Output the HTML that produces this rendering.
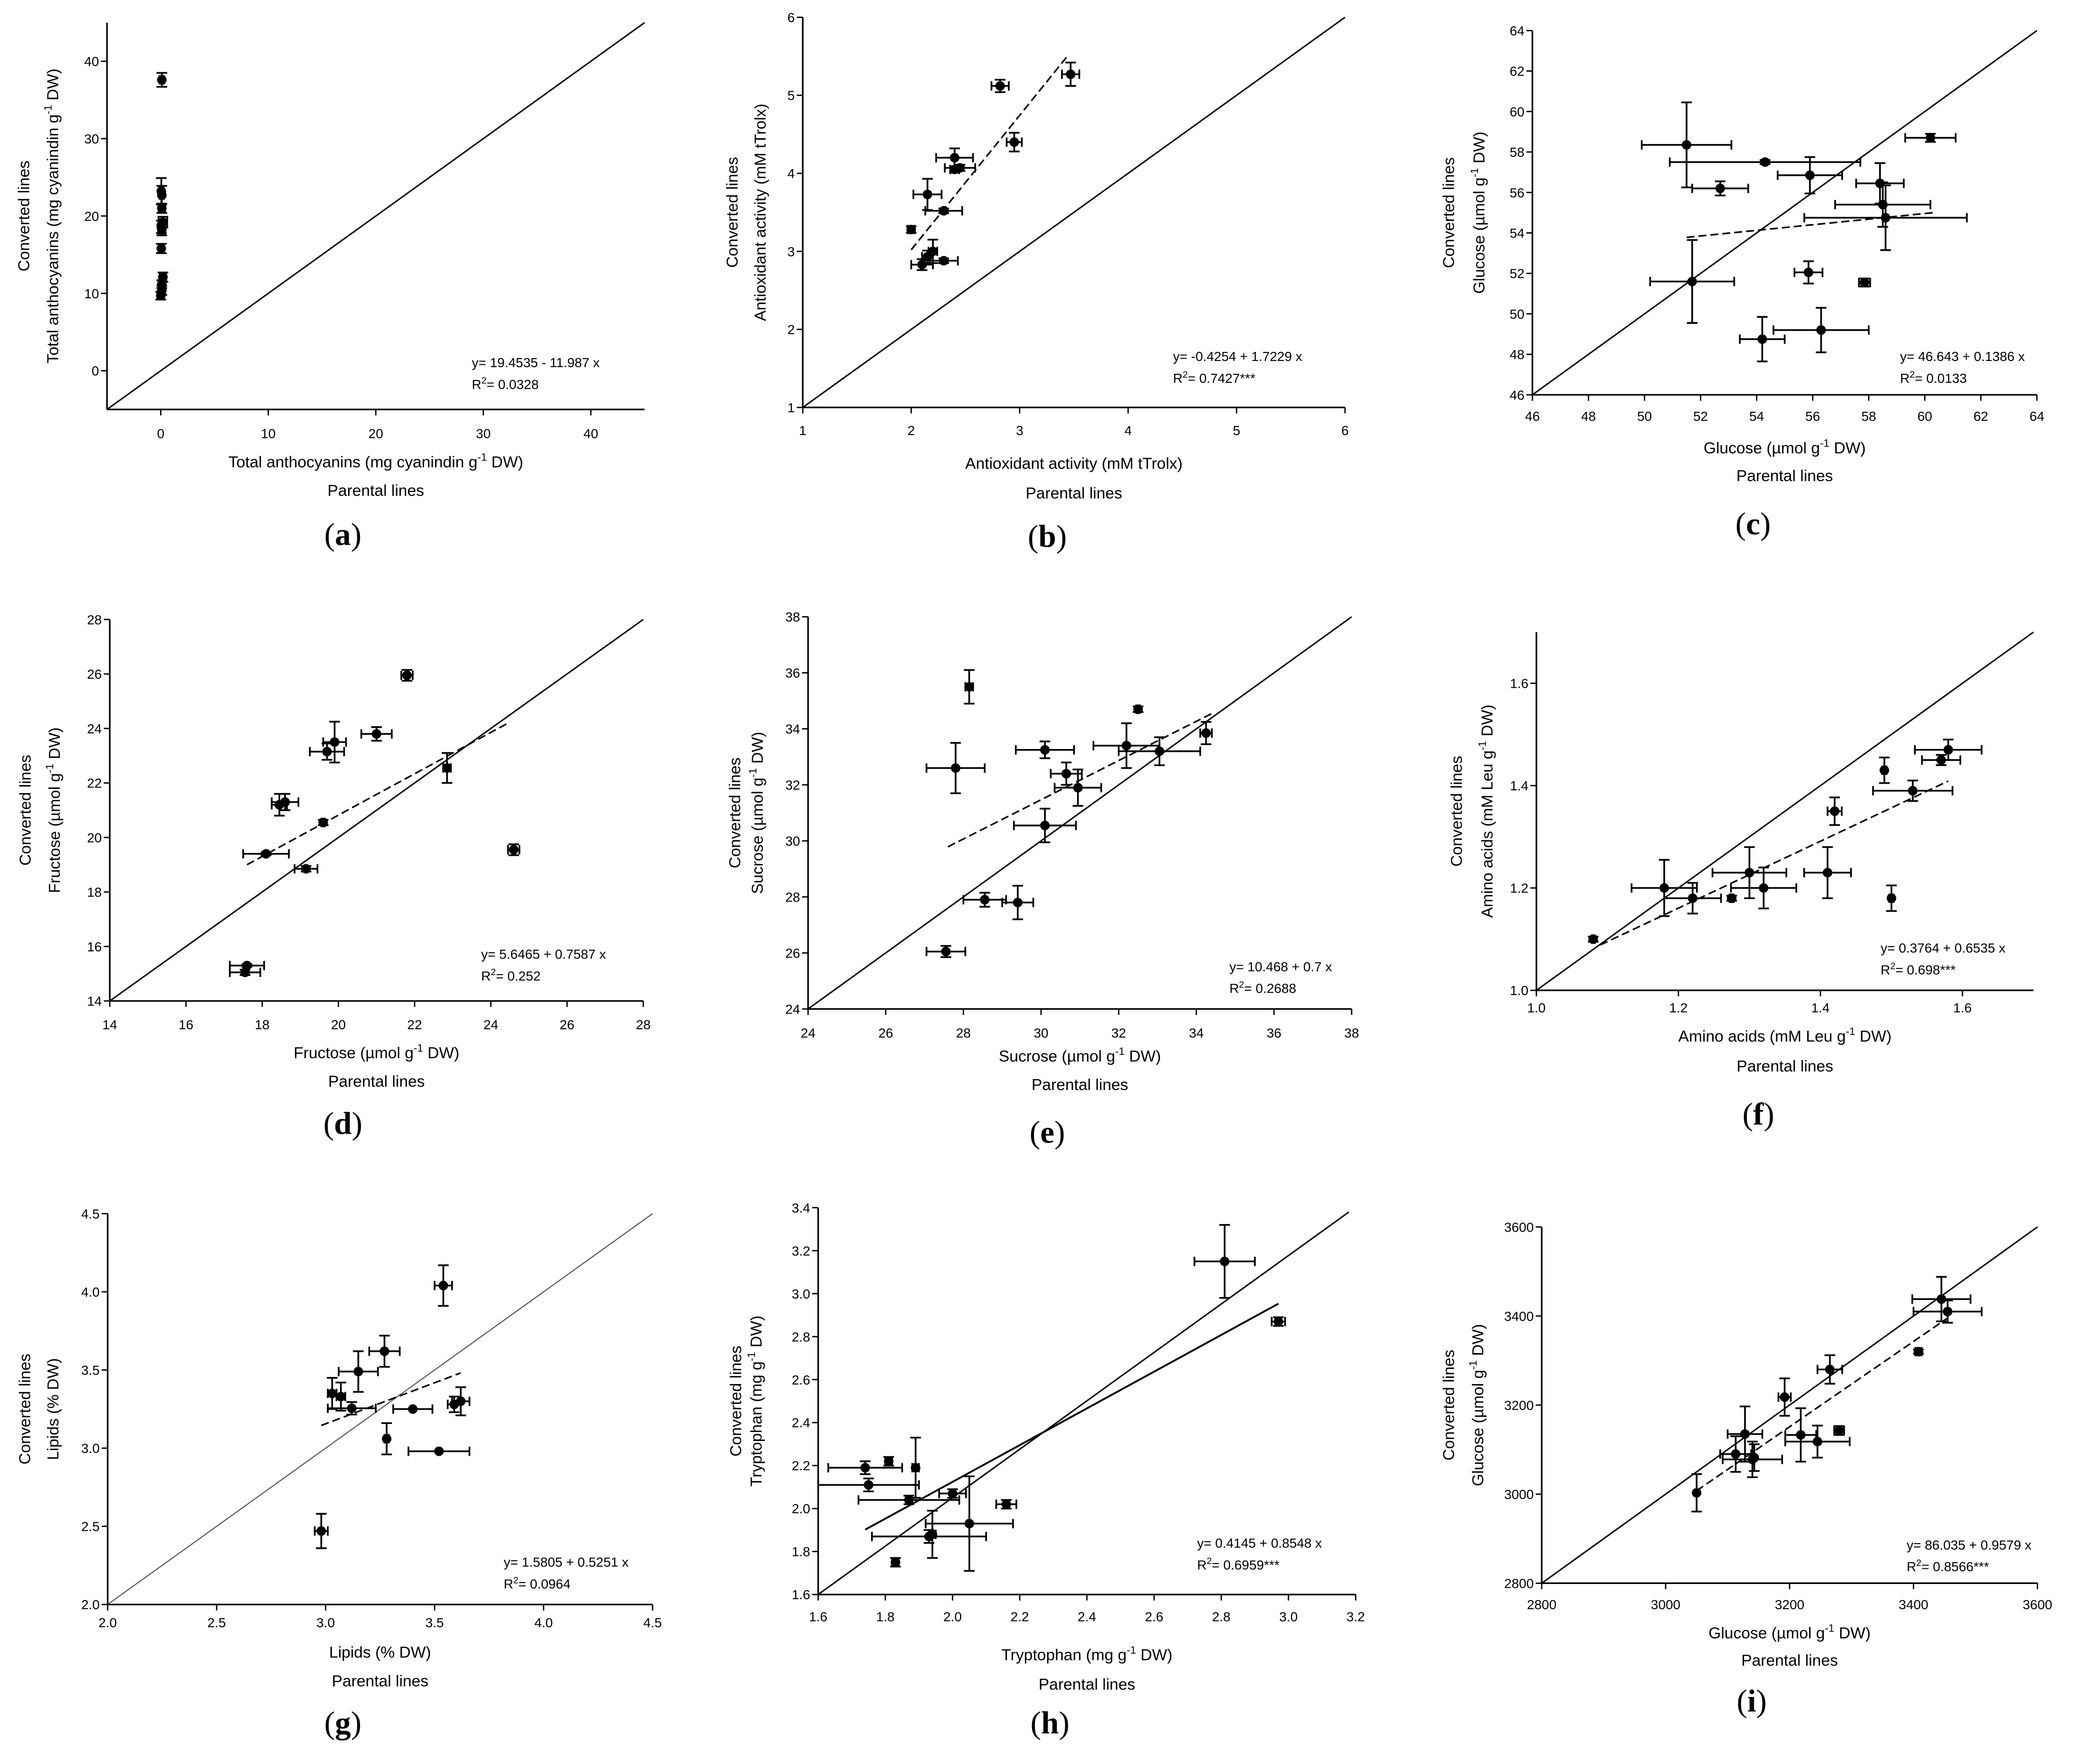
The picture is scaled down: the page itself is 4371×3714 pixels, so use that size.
<!DOCTYPE html>
<html><head><meta charset="utf-8"><style>
html,body{margin:0;padding:0;background:#fff;}
svg{display:block;}
text{font-family:"Liberation Sans",sans-serif;fill:#000;}
.pl{font-family:"Liberation Serif",serif;font-size:24px;}
</style></head><body>
<svg id="fig" width="4371" height="3714" viewBox="0 0 1562 1327" preserveAspectRatio="none" xmlns="http://www.w3.org/2000/svg">
<rect width="1562" height="1327" fill="#fff"/>
</svg>
<script>
// ---- data arrays (top level) ----
const aX=[0.1,0.05,0.1,0.1,0.2,0.05,0.1,0.05,0.2,0.1,0.1,0.0];
const aY=[37.6,23.2,22.7,21.0,19.2,18.6,18.2,15.8,12.1,11.2,10.4,9.7];
const aXe=[0.2,0.2,0.2,0.3,0.4,0.3,0.3,0.2,0.3,0.3,0.3,0.3];
const aYe=[0.9,1.7,1.2,0.6,0.7,0.8,0.7,0.6,0.6,0.5,0.6,0.5];

const bX=[2.82,3.47,2.95,2.4,2.45,2.4,2.15,2.3,2.0,2.2,2.15,2.1,2.3];
const bY=[5.12,5.27,4.4,4.2,4.07,4.05,3.73,3.52,3.28,3.0,2.93,2.83,2.88];
const bXe=[0.08,0.08,0.07,0.17,0.14,0.04,0.13,0.17,0.03,0.04,0.05,0.1,0.13];
const bYe=[0.08,0.15,0.12,0.12,0.04,0.04,0.2,0.03,0.04,0.15,0.08,0.07,0.03];

const cX=[51.5,54.3,52.7,55.9,58.4,60.2,58.5,58.6,55.85,57.85,51.7,56.3,54.2];
const cY=[58.35,57.5,56.2,56.85,56.45,58.7,55.4,54.75,52.05,51.55,51.6,49.2,48.75];
const cXe=[1.6,3.4,1.0,1.15,0.85,0.9,1.7,2.9,0.5,0.2,1.5,1.7,0.8];
const cYe=[2.1,0.1,0.35,0.9,1.0,0.2,1.1,1.6,0.55,0.2,2.05,1.1,1.1];

const dX=[21.8,19.9,19.7,21.0,18.6,18.45,22.85,19.6,18.1,19.15,24.6,17.6,17.55];
const dY=[25.95,23.5,23.15,23.8,21.3,21.2,22.55,20.55,19.4,18.85,19.55,15.3,15.05];
const dXe=[0.15,0.3,0.45,0.4,0.35,0.2,0.1,0.05,0.6,0.3,0.15,0.45,0.4];
const dYe=[0.2,0.75,0.3,0.25,0.3,0.4,0.55,0.1,0.05,0.1,0.2,0.05,0.1];

const eX=[28.15,32.5,34.25,27.8,30.1,30.65,30.95,32.2,33.05,30.1,28.55,29.4,27.55];
const eY=[35.5,34.7,33.85,32.6,33.25,32.4,31.9,33.4,33.2,30.55,27.9,27.8,26.05];
const eXe=[0.1,0.05,0.15,0.75,0.75,0.4,0.6,0.85,1.05,0.8,0.55,0.4,0.5];
const eYe=[0.6,0.1,0.4,0.9,0.3,0.4,0.65,0.8,0.5,0.6,0.25,0.6,0.2];

const fX=[1.58,1.57,1.49,1.53,1.42,1.18,1.22,1.275,1.30,1.32,1.41,1.50,1.08];
const fY=[1.47,1.45,1.43,1.39,1.35,1.20,1.18,1.18,1.23,1.20,1.23,1.18,1.10];
const fXe=[0.047,0.027,0.003,0.056,0.01,0.046,0.04,0.003,0.052,0.046,0.033,0.003,0.002];
const fYe=[0.02,0.01,0.025,0.02,0.027,0.055,0.03,0.005,0.05,0.04,0.05,0.025,0.005];

const gX=[3.54,3.27,3.15,3.03,3.07,3.12,3.40,3.59,3.62,3.28,3.52,2.98];
const gY=[4.04,3.62,3.49,3.35,3.33,3.255,3.25,3.28,3.30,3.06,2.98,2.47];
const gXe=[0.04,0.07,0.09,0.02,0.02,0.11,0.09,0.03,0.04,0.01,0.14,0.03];
const gYe=[0.13,0.1,0.13,0.1,0.09,0.04,0.0,0.05,0.09,0.1,0.0,0.11];

const hX=[2.81,2.97,1.74,1.81,1.75,1.89,1.87,2.00,2.16,2.05,1.93,1.94,1.83];
const hY=[3.15,2.87,2.19,2.22,2.11,2.19,2.04,2.07,2.02,1.93,1.87,1.88,1.75];
const hXe=[0.09,0.02,0.11,0.01,0.15,0.01,0.15,0.04,0.03,0.13,0.17,0.01,0.01];
const hYe=[0.17,0.02,0.03,0.02,0.03,0.14,0.02,0.02,0.02,0.22,0.03,0.11,0.02];

const iX=[3445,3455,3408,3265,3192,3128,3113,3140,3218,3245,3280,3050,3143];
const iY=[3438,3410,3320,3280,3218,3135,3090,3078,3133,3118,3143,3003,3082];
const iXe=[47,55,5,20,10,28,25,48,25,52,8,2,2];
const iYe=[50,25,5,32,42,62,40,40,60,36,10,42,30];

const aTicks=[0,10,20,30,40];
const bTicks=[1,2,3,4,5,6];
const cTicks=[46,48,50,52,54,56,58,60,62,64];
const dTicks=[14,16,18,20,22,24,26,28];
const eTicks=[24,26,28,30,32,34,36,38];
const fTicks=[1.0,1.2,1.4,1.6];
const gTicks=[2.0,2.5,3.0,3.5,4.0,4.5];
const hTicks=[1.6,1.8,2.0,2.2,2.4,2.6,2.8,3.0,3.2];
const hYTicks=[1.6,1.8,2.0,2.2,2.4,2.6,2.8,3.0,3.2,3.4];
const iTicks=[2800,3000,3200,3400,3600];

const NS='http://www.w3.org/2000/svg';
const svg=document.getElementById('fig');
function mk(tag,attrs,parent,txt){const e=document.createElementNS(NS,tag);for(const k in attrs)e.setAttribute(k,attrs[k]);if(txt!==undefined)e.textContent=txt;(parent||svg).appendChild(e);return e;}

const panels=[
 {id:'a',X:aX,Y:aY,Xe:aXe,Ye:aYe,px:[80.5,485],dx:[-5,45],py:[308,17],dy:[-5,45],xt:aTicks,yt:aTicks,dec:0,tly:326,
  diag:[[-5,-5],[45,45]],reg:null,
  xl:'Total anthocyanins (mg cyanindin g',xl2:' DW)',xly:347.6,ply:369,yl:'Total anthocyanins (mg cyanindin g',yx:[18,39.7],eq:['y= 19.4535 - 11.987 x','0.0328'],eqp:[355,272.6],let:[258,402]},
 {id:'b',X:bX,Y:bY,Xe:bXe,Ye:bYe,px:[604,1012],dx:[1,6],py:[306.5,13],dy:[1,6],xt:bTicks,yt:bTicks,dec:0,tly:323.7,
  diag:[[1,1],[6,6]],reg:{x:[2.0,3.45],a:-0.4254,b:1.7229,dash:true},
  xl:'Antioxidant activity (mM tTrolx)',xl2:null,xly:348.7,ply:371,yl:'Antioxidant activity (mM tTrolx)',yl2:null,yx:[551,572],eq:['y= -0.4254 + 1.7229 x','0.7427***'],eqp:[882.6,268],let:[788,403.5]},
 {id:'c',X:cX,Y:cY,Xe:cXe,Ye:cYe,px:[1153,1532.6],dx:[46,64],py:[297,23],dy:[46,64],xt:cTicks,yt:cTicks,dec:0,tly:313,
  diag:[[46,46],[64,64]],reg:{x:[51.5,60.3],a:46.643,b:0.1386,dash:true},
  xl:'Glucose (\u00b5mol g',xl2:' DW)',xly:337,ply:358,yl:'Glucose (\u00b5mol g',yx:[1090,1113],eq:['y= 46.643 + 0.1386 x','0.0133'],eqp:[1429.6,268],let:[1319,394]},
 {id:'d',X:dX,Y:dY,Xe:dXe,Ye:dYe,px:[82.6,484],dx:[14,28],py:[753,466],dy:[14,28],xt:dTicks,yt:dTicks,dec:0,tly:770.6,
  diag:[[14,14],[28,28]],reg:{x:[17.6,24.5],a:5.6465,b:0.7587,dash:true},
  xl:'Fructose (\u00b5mol g',xl2:' DW)',xly:792,ply:813.5,yl:'Fructose (\u00b5mol g',yx:[19,41],eq:['y= 5.6465 + 0.7587 x','0.252'],eqp:[362,717.6],let:[258,845]},
 {id:'e',X:eX,Y:eY,Xe:eXe,Ye:eYe,px:[608,1017],dx:[24,38],py:[759,464],dy:[24,38],xt:eTicks,yt:eTicks,dec:0,tly:777,
  diag:[[24,24],[38,38]],reg:{x:[27.6,34.4],a:10.468,b:0.7,dash:true},
  xl:'Sucrose (\u00b5mol g',xl2:' DW)',xly:794.5,ply:816,yl:'Sucrose (\u00b5mol g',yx:[553,570],eq:['y= 10.468 + 0.7 x','0.2688'],eqp:[925,727],let:[788,851.6]},
 {id:'f',X:fX,Y:fY,Xe:fXe,Ye:fYe,px:[1156,1530],dx:[1.0,1.7],py:[745,475.5],dy:[1.0,1.7],xt:fTicks,yt:fTicks,dec:1,tly:758,
  diag:[[1,1],[1.7,1.7]],reg:{x:[1.09,1.58],a:0.3764,b:0.6535,dash:true},
  xl:'Amino acids (mM Leu g',xl2:' DW)',xly:779.6,ply:802,yl:'Amino acids (mM Leu g',yx:[1096,1119],eq:['y= 0.3764 + 0.6535 x','0.698***'],eqp:[1415,713],let:[1323,838]},
 {id:'g',X:gX,Y:gY,Xe:gXe,Ye:gYe,px:[81,491],dx:[2.0,4.5],py:[1207,913],dy:[2.0,4.5],xt:gTicks,yt:gTicks,dec:1,tly:1220.5,
  diag:[[2,2],[4.5,4.5]],gray:true,reg:{x:[2.98,3.62],a:1.5805,b:0.5251,dash:true},
  xl:'Lipids (%  DW)',xl2:null,xly:1243,ply:1264.6,yl:'Lipids (%  DW)',yl2:null,yx:[18.7,40],eq:['y= 1.5805 + 0.5251 x','0.0964'],eqp:[379,1175],let:[258,1296]},
 {id:'h',X:hX,Y:hY,Xe:hXe,Ye:hYe,px:[615.6,1020],dx:[1.6,3.2],py:[1199.5,908.5],dy:[1.6,3.4],xt:hTicks,yt:hYTicks,dec:1,tly:1216,
  diag:[[1.6,1.6],[3.18,3.38]],reg:{x:[1.74,2.97],a:0.4145,b:0.8548,dash:false},
  xl:'Tryptophan (mg g',xl2:' DW)',xly:1245,ply:1267,yl:'Tryptophan (mg g',yx:[553.6,569],eq:['y= 0.4145 + 0.8548 x','0.6959***'],eqp:[900.7,1160.6],let:[790,1296]},
 {id:'i',X:iX,Y:iY,Xe:iXe,Ye:iYe,px:[1160,1533],dx:[2800,3600],py:[1191,923],dy:[2800,3600],xt:iTicks,yt:iTicks,dec:0,tly:1207,
  diag:[[2800,2800],[3600,3600]],reg:{x:[3050,3455],a:86.035,b:0.9579,dash:true},
  xl:'Glucose (\u00b5mol g',xl2:' DW)',xly:1228.5,ply:1249,yl:'Glucose (\u00b5mol g',yx:[1090,1112],eq:['y= 86.035 + 0.9579 x','0.8566***'],eqp:[1434.6,1162],let:[1318,1279.6]}
];

function labelWithSup(parent,x,y,main,tail,attrs){
  const t=mk('text',Object.assign({x:x,y:y,'text-anchor':'middle','font-size':12},attrs||{}),parent);
  mk('tspan',{},t,main);
  if(tail!==null&&tail!==undefined){
    mk('tspan',{dy:-5,'font-size':8},t,'-1');
    mk('tspan',{dy:5},t,tail);
  }
  return t;
}

panels.forEach(p=>{
  const g=mk('g',{});
  
  
  const sx=v=>p.px[0]+(v-p.dx[0])/(p.dx[1]-p.dx[0])*(p.px[1]-p.px[0]);
  const sy=v=>p.py[0]-(v-p.dy[0])/(p.dy[1]-p.dy[0])*(p.py[0]-p.py[1]);
  const xa=mk('line',{x1:p.px[0],y1:p.py[0],x2:p.px[1],y2:p.py[0],stroke:'#000','stroke-width':1.2},g);
  
  
  const ya=mk('line',{x1:p.px[0],y1:p.py[0],x2:p.px[0],y2:p.py[1],stroke:'#000','stroke-width':1.2},g);
  
  
  p.xt.forEach(v=>{
    const x=sx(v);
    mk('line',{x1:x,y1:p.py[0],x2:x,y2:p.py[0]+4.5,stroke:'#000','stroke-width':1},g);
    const t=mk('text',{x:x,y:p.tly+3.6,'text-anchor':'middle','font-size':10},g,v.toFixed(p.dec));
    
    
  });
  p.yt.forEach(v=>{
    const y=sy(v);
    mk('line',{x1:p.px[0]-4.5,y1:y,x2:p.px[0],y2:y,stroke:'#000','stroke-width':1},g);
    const t=mk('text',{x:p.px[0]-6,y:y+3.6,'text-anchor':'end','font-size':10},g,v.toFixed(p.dec));
    
    
  });
  const dg=mk('line',{x1:sx(p.diag[0][0]),y1:sy(p.diag[0][1]),x2:sx(p.diag[1][0]),y2:sy(p.diag[1][1]),stroke:p.gray?'#555':'#000','stroke-width':p.gray?0.8:1.1},g);
  
  
  if(p.reg){
    const r=p.reg;
    const rl=mk('line',{x1:sx(r.x[0]),y1:sy(r.a+r.b*r.x[0]),x2:sx(r.x[1]),y2:sy(r.a+r.b*r.x[1]),stroke:'#000','stroke-width':r.dash?1.2:1.4},g);
    if(r.dash)rl.setAttribute('stroke-dasharray','6,3');
    
    
  }
  p.X.forEach((xv,k)=>{
    const yv=p.Y[k],cx=sx(xv),cy=sy(yv);
    const pg=mk('g',{stroke:'#000','stroke-width':1.3,fill:'#000'},g);
    
    
    const xl=sx(xv-p.Xe[k]),xr=sx(xv+p.Xe[k]);
    if(xr-xl>2){
      mk('line',{x1:xl,y1:cy,x2:xr,y2:cy},pg);
      mk('line',{x1:xl,y1:cy-3.5,x2:xl,y2:cy+3.5},pg);
      mk('line',{x1:xr,y1:cy-3.5,x2:xr,y2:cy+3.5},pg);
    }
    const yt=sy(yv+p.Ye[k]),yb=sy(yv-p.Ye[k]);
    if(yb-yt>2){
      mk('line',{x1:cx,y1:yt,x2:cx,y2:yb},pg);
      mk('line',{x1:cx-4,y1:yt,x2:cx+4,y2:yt},pg);
      mk('line',{x1:cx-4,y1:yb,x2:cx+4,y2:yb},pg);
    }
    mk('circle',{cx:cx,cy:cy,r:3.6,stroke:'none'},pg);
  });
  const xc=(p.px[0]+p.px[1])/2;
  const xlab=labelWithSup(g,xc,p.xly+4,p.xl,p.xl2);
  
  
  const pl=mk('text',{x:xc,y:p.ply+4,'text-anchor':'middle','font-size':12},g,'Parental lines');
  
  
  const yc=(p.py[0]+p.py[1])/2;
  const cl=mk('text',{x:0,y:0,'text-anchor':'middle','font-size':12,transform:'translate('+(p.yx[0]+4)+','+yc+') rotate(-90)'},g,'Converted lines');
  
  
  const ylab=labelWithSup(g,0,0,p.yl,p.yl2===null?null:' DW)',{transform:'translate('+(p.yx[1]+4)+','+yc+') rotate(-90)'});
  
  
  const e1=mk('text',{x:p.eqp[0],y:p.eqp[1]+3.6,'font-size':10},g,p.eq[0]);
  
  
  const e2=mk('text',{x:p.eqp[0],y:p.eqp[1]+20,'font-size':10},g);
  
  
  mk('tspan',{},e2,'R');mk('tspan',{dy:-4,'font-size':7},e2,'2');mk('tspan',{dy:4},e2,'= '+p.eq[1]);
  const lt=mk('text',{x:p.let[0],y:p.let[1]+8,'text-anchor':'middle',class:'pl'},g);
  
  
  mk('tspan',{},lt,'(');mk('tspan',{'font-weight':'bold'},lt,p.id);mk('tspan',{},lt,')');
});
</script>
</body></html>
